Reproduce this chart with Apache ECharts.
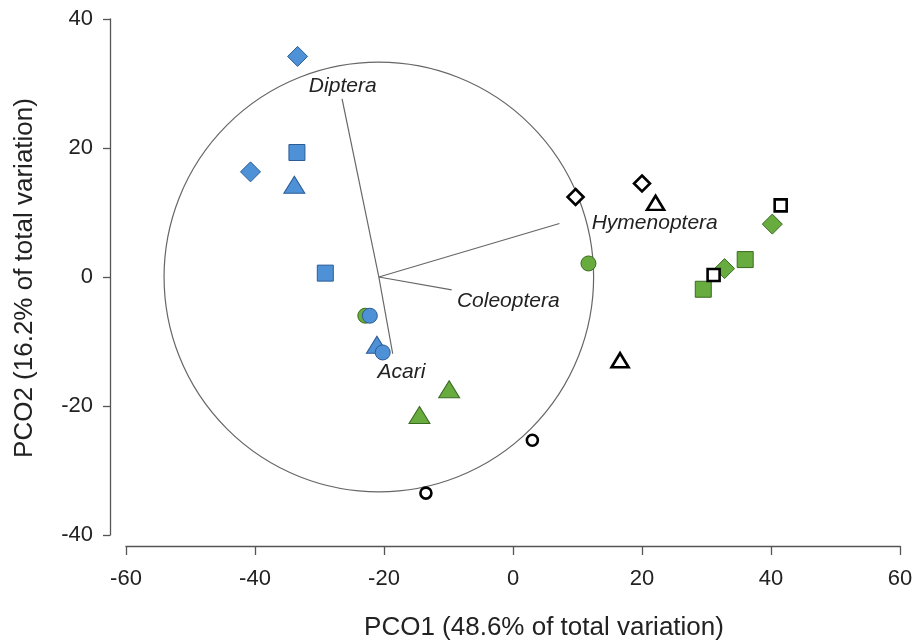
<!DOCTYPE html>
<html>
<head>
<meta charset="utf-8">
<script src="https://cdn.jsdelivr.net/npm/echarts@6/dist/echarts.min.js"></script>
<style>html,body{margin:0;padding:0;background:#fff;}#chart{width:917px;height:640px;}</style>
</head>
<body>
<div id="chart"></div>
<script>
// Axis settings
var xTicks = [-60, -40, -20, 0, 20, 40, 60];
var yTicks = [-40, -20, 0, 20, 40];
var xTitle = 'PCO1 (48.6% of total variation)';
var yTitle = 'PCO2 (16.2% of total variation)';

// Points [PCO1, PCO2]
var blueDiamond = [[-33.4, 34.2], [-40.7, 16.3]];
var blueSquare = [[-33.5, 19.3], [-29.1, 0.6]];
var blueTriangle = [[-33.9, 14.3], [-21.1, -10.5]];
var blueCircle = [[-22.2, -6.0], [-20.2, -11.7]];
var greenCircle = [[-22.9, -6.0], [11.7, 2.1]];
var greenTriangle = [[-9.9, -17.4], [-14.5, -21.4]];
var greenDiamond = [[40.2, 8.2], [32.8, 1.3]];
var greenSquare = [[36.0, 2.7], [29.5, -1.9]];
var openDiamond = [[9.7, 12.4], [20.0, 14.5]];
var openTriangle = [[22.1, 11.5], [16.6, -12.9]];
var openSquare = [[41.5, 11.1], [31.1, 0.3]];
var openCircle = [[3.0, -25.3], [-13.5, -33.5]];

// Correlation circle: center x, center y, radius
var circleDef = [[-20.8, 0, 33.3]];
// Vectors
var vectorOrigin = [-20.8, 0];
var vectorNames = ['Diptera', 'Hymenoptera', 'Coleoptera', 'Acari'];
var vectorEnds = [[-26.5, 27.6], [7.2, 8.3], [-9.5, -2.0], [-18.65, -11.9]];
var vectorLabelPos = [[-26.4, 29.6], [12.2, 8.4], [-8.7, -3.8], [-17.3, -14.7]];
var vectorLabelAlign = ['center', 'left', 'left', 'center'];

var FONT = '"Liberation Sans", Arial, Helvetica, sans-serif';
var BLUE = '#4F91D6', BLUE_S = '#2B5C95';
var GREEN = '#68AB3E', GREEN_S = '#3A6A20';

function sc(name, data, symbol, size, fill, stroke, bw) {
  return {
    type: 'scatter', name: name, data: data, symbol: symbol, symbolSize: size,
    itemStyle: { color: fill, borderColor: stroke, borderWidth: bw, opacity: 1 },
    emphasis: { disabled: true }, z: 5, clip: false
  };
}

var vecData = vectorEnds.map(function (e, i) {
  return [e[0], e[1], vectorLabelPos[i][0], vectorLabelPos[i][1], i];
});

var chart = echarts.init(document.getElementById('chart'), null, { renderer: 'canvas' });
chart.setOption({
  animation: false,
  backgroundColor: '#fff',
  grid: { left: 126, right: 17, top: 19, bottom: 105 },
  xAxis: {
    type: 'value', min: -60, max: 60, interval: 20, offset: 11,
    axisLine: { show: true, onZero: false, lineStyle: { color: '#555', width: 1.3 } },
    axisTick: { show: true, length: 9, lineStyle: { color: '#555', width: 1.3 } },
    axisLabel: { fontSize: 22, color: '#222', fontFamily: FONT, margin: 22,
      formatter: function (v) { return xTicks.indexOf(v) >= 0 ? String(v) : ''; } },
    splitLine: { show: false }
  },
  yAxis: {
    type: 'value', min: -40, max: 40, interval: 20, offset: 16,
    axisLine: { show: true, onZero: false, lineStyle: { color: '#555', width: 1.3 } },
    axisTick: { show: true, length: 7, lineStyle: { color: '#555', width: 1.3 } },
    axisLabel: { fontSize: 22, color: '#222', fontFamily: FONT, margin: 17,
      formatter: function (v) { return yTicks.indexOf(v) >= 0 ? String(v) : ''; } },
    splitLine: { show: false }
  },
  graphic: [
    { type: 'text', x: 544, y: 628, style: { text: xTitle, font: '26px ' + FONT, fill: '#222', align: 'center', verticalAlign: 'middle' }, z: 10 },
    { type: 'text', x: 25, y: 278, rotation: Math.PI / 2, style: { text: yTitle, font: '26px ' + FONT, fill: '#222', align: 'center', verticalAlign: 'middle' }, z: 10 }
  ],
  series: [
    {
      type: 'custom', data: circleDef, z: 1, clip: false,
      renderItem: function (params, api) {
        var c = api.coord([api.value(0), api.value(1)]);
        var r = api.size([api.value(2), 0])[0];
        return { type: 'circle', shape: { cx: c[0], cy: c[1], r: r },
          style: { fill: null, stroke: '#666', lineWidth: 1.2 } };
      }
    },
    {
      type: 'custom', data: vecData, z: 2, clip: false,
      renderItem: function (params, api) {
        var o = api.coord(vectorOrigin);
        var e = api.coord([api.value(0), api.value(1)]);
        var l = api.coord([api.value(2), api.value(3)]);
        var i = api.value(4);
        return { type: 'group', children: [
          { type: 'line', shape: { x1: o[0], y1: o[1], x2: e[0], y2: e[1] }, style: { stroke: '#666', lineWidth: 1.2 } },
          { type: 'text', x: l[0], y: l[1], style: { text: vectorNames[i], font: 'italic 21px ' + FONT, fill: '#222',
            align: vectorLabelAlign[i], verticalAlign: 'middle' } }
        ] };
      }
    },
    sc('greenCircle', greenCircle, 'circle', 15, GREEN, GREEN_S, 1),
    sc('greenTriangle', greenTriangle, 'triangle', [21, 17], GREEN, GREEN_S, 1),
    sc('greenDiamond', greenDiamond, 'diamond', [20, 20], GREEN, GREEN_S, 1),
    sc('greenSquare', greenSquare, 'rect', 16, GREEN, GREEN_S, 1),
    sc('blueDiamond', blueDiamond, 'diamond', [20, 20], BLUE, BLUE_S, 1),
    sc('blueSquare', blueSquare, 'rect', 16, BLUE, BLUE_S, 1),
    sc('blueTriangle', blueTriangle, 'triangle', [21, 17], BLUE, BLUE_S, 1),
    sc('blueCircle', blueCircle, 'circle', 15, BLUE, BLUE_S, 1),
    sc('openDiamond', openDiamond, 'diamond', [16, 16], '#fff', '#000', 2.6),
    sc('openTriangle', openTriangle, 'triangle', [17, 14], '#fff', '#000', 2.6),
    sc('openSquare', openSquare, 'rect', 12, '#fff', '#000', 2.6),
    sc('openCircle', openCircle, 'circle', 11, '#fff', '#000', 2.6)
  ]
});
</script>
</body>
</html>
